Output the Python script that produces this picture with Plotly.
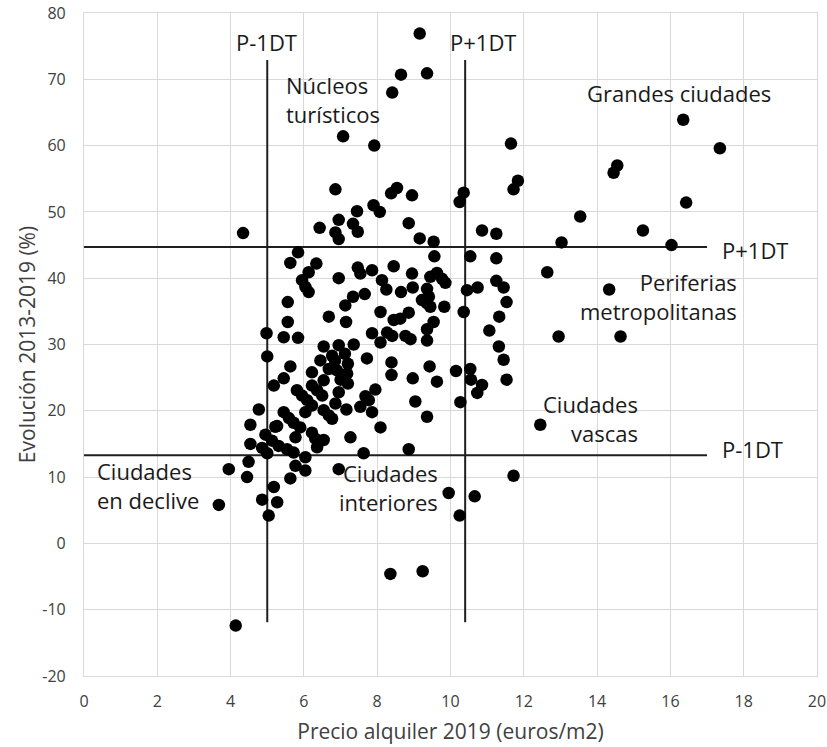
import plotly.graph_objects as go

# Precio alquiler 2019 (euros/m2)
precio = [
    9.16, 8.65, 9.36, 8.41, 11.65, 7.07, 7.92,
    16.35, 17.35, 14.55, 14.45, 16.43, 13.54, 15.25, 13.03, 16.03, 12.64, 14.33, 12.95, 14.64, 12.45,
    11.84, 11.72, 10.36, 10.25, 8.54, 8.38, 8.95, 8.07, 7.90, 8.86, 9.16, 9.54, 10.86, 11.25,
    9.56, 10.54, 11.25, 8.45, 8.95, 9.45, 9.63, 9.77, 9.86, 8.13, 8.25, 8.65, 8.97, 9.36, 9.41,
    9.22, 9.36, 9.45, 9.83, 10.45, 10.74, 11.25, 11.45, 11.53, 11.33, 11.06, 10.36, 11.32,
    8.09, 8.63, 8.86, 9.54, 9.36, 8.27, 8.41, 8.77, 8.91, 9.36, 8.09,
    11.45, 11.53, 10.86, 10.73, 10.54, 10.56, 10.15, 10.27, 9.43, 9.63, 8.97, 8.39, 8.39,
    9.04, 9.36, 8.86, 11.72, 9.95, 10.66, 10.25, 8.09, 8.36, 9.24,
    6.86, 7.45, 6.95, 6.43, 6.86, 6.95, 7.34, 7.47, 4.34, 5.84, 5.63, 6.34, 6.13, 5.95, 6.04,
    6.13, 6.95, 7.47, 7.54, 7.86, 7.34, 7.13, 7.66, 5.56, 5.56, 6.68, 7.15, 4.98, 5.45, 5.84,
    6.54, 6.95, 7.36, 7.86, 8.45, 7.12,
    5.00, 5.63, 5.45, 5.18, 4.77, 4.54, 4.54, 4.86, 5.00, 4.95, 5.13, 5.31, 5.54, 5.72, 5.22,
    5.45, 5.59, 5.72, 5.90, 5.77, 5.81, 5.95, 6.09, 6.22, 6.04, 6.22, 6.36, 6.50, 6.22, 6.45,
    6.77, 6.68, 6.54, 6.85, 7.20, 7.72, 7.00, 7.20, 7.18, 6.90, 6.95, 6.86, 6.54, 6.68, 6.77,
    7.16, 7.54, 7.68, 7.77, 7.95, 7.86, 7.27, 7.63, 6.22, 6.31, 6.54, 6.36, 6.04, 5.77, 6.04,
    5.63, 5.18, 5.27, 4.86, 5.04, 4.45, 4.49, 3.95, 3.68, 4.14, 6.95, 5.27,
]

# Evolución 2013-2019 (%)
evolucion = [
    76.9, 70.7, 70.9, 68.0, 60.3, 61.4, 60.0,
    63.9, 59.6, 57.0, 55.9, 51.4, 49.3, 47.2, 45.4, 45.0, 40.9, 38.3, 31.2, 31.2, 17.9,
    54.7, 53.4, 52.9, 51.5, 53.6, 52.8, 52.5, 50.0, 51.0, 48.3, 46.0, 45.5, 47.2, 46.7,
    43.3, 43.3, 43.0, 41.8, 40.7, 40.2, 40.8, 39.9, 39.3, 39.7, 38.3, 37.9, 38.6, 38.4, 37.2,
    36.7, 36.2, 35.7, 35.7, 38.2, 38.6, 39.6, 38.6, 36.4, 34.2, 32.1, 34.9, 29.7,
    34.9, 33.9, 34.8, 33.4, 32.3, 31.8, 31.3, 31.3, 30.8, 30.6, 30.3,
    27.7, 24.7, 23.9, 22.7, 26.3, 24.7, 26.0, 21.3, 26.7, 24.4, 24.9, 27.3, 25.4,
    21.4, 19.1, 14.2, 10.2, 7.6, 7.1, 4.2, 17.5, -4.6, -4.2,
    53.4, 50.1, 48.8, 47.6, 46.9, 45.9, 48.2, 47.0, 46.8, 43.9, 42.3, 42.2, 40.9, 39.7, 38.7,
    37.9, 40.0, 41.6, 40.7, 41.2, 37.2, 35.9, 37.6, 36.4, 33.4, 34.2, 33.4, 31.7, 31.1, 31.0,
    29.7, 29.9, 30.0, 31.7, 33.7, 28.6,
    28.2, 26.7, 24.9, 23.8, 20.2, 17.9, 15.0, 14.4, 13.6, 16.4, 15.5, 14.7, 14.2, 13.7, 17.6,
    19.8, 18.9, 18.2, 17.5, 16.0, 23.1, 22.3, 21.6, 20.8, 19.8, 23.8, 23.1, 22.3, 25.8, 27.6,
    28.3, 26.3, 24.6, 27.6, 27.1, 27.9, 24.7, 24.1, 25.6, 26.1, 22.8, 21.1, 20.1, 19.3, 18.8,
    20.2, 20.6, 22.2, 21.6, 23.2, 19.8, 16.0, 13.6, 16.7, 15.8, 15.6, 14.5, 13.0, 11.7, 11.0,
    9.8, 8.5, 6.2, 6.6, 4.2, 10.0, 12.3, 11.2, 5.8, -12.4, 11.2, 17.7,
]

# Reference lines (mean ± 1 standard deviation)
precio_menos_dt = 5.0
precio_mas_dt = 10.4
evol_mas_dt = 44.7
evol_menos_dt = 13.3
linea_x_rango = [0, 17.0]
linea_y_rango = [-11.9, 72.9]

x_ticks = list(range(0, 21, 2))
y_ticks = list(range(-20, 81, 10))

FONT = "Open Sans"
TXT = "#1a1a1a"
AXTXT = "#404040"
GRID = "#d9d9d9"

fig = go.Figure()

line_style = dict(color="#1f1f1f", width=2)
fig.add_trace(go.Scatter(x=[precio_menos_dt, precio_menos_dt], y=linea_y_rango, mode="lines",
                         line=line_style, hoverinfo="skip", showlegend=False))
fig.add_trace(go.Scatter(x=[precio_mas_dt, precio_mas_dt], y=linea_y_rango, mode="lines",
                         line=line_style, hoverinfo="skip", showlegend=False))
fig.add_trace(go.Scatter(x=linea_x_rango, y=[evol_mas_dt, evol_mas_dt], mode="lines",
                         line=line_style, hoverinfo="skip", showlegend=False))
fig.add_trace(go.Scatter(x=linea_x_rango, y=[evol_menos_dt, evol_menos_dt], mode="lines",
                         line=line_style, hoverinfo="skip", showlegend=False))

fig.add_trace(go.Scatter(x=precio, y=evolucion, mode="markers",
                         marker=dict(color="black", size=12.5, line=dict(width=0)),
                         showlegend=False))

ann_font = dict(family=FONT, size=22, color=TXT)
annotations = [
    dict(x=4.97, y=75.65, text="P-1DT", xanchor="center"),
    dict(x=10.9, y=75.6, text="P+1DT", xanchor="center"),
    dict(x=5.46, y=67.0, text="Núcleos<br>turísticos", xanchor="left", align="left"),
    dict(x=16.23, y=67.9, text="Grandes ciudades", xanchor="center"),
    dict(x=17.34, y=44.3, text="P+1DT", xanchor="left"),
    dict(x=17.86, y=37.3, text="Periferias<br>metropolitanas", xanchor="right", align="right"),
    dict(x=15.18, y=18.9, text="Ciudades<br>vascas", xanchor="right", align="right"),
    dict(x=17.34, y=14.3, text="P-1DT", xanchor="left"),
    dict(x=0.31, y=8.8, text="Ciudades<br>en declive", xanchor="left", align="left"),
    dict(x=9.72, y=8.5, text="Ciudades<br>interiores", xanchor="right", align="right"),
]
for a in annotations:
    a.update(xref="x", yref="y", yanchor="middle", showarrow=False, font=ann_font)

fig.update_layout(
    width=827, height=747,
    margin=dict(l=84, r=10, t=13, b=71),
    paper_bgcolor="white", plot_bgcolor="white",
    font=dict(family=FONT, color=AXTXT, size=16),
    annotations=annotations,
    showlegend=False,
)
fig.update_xaxes(
    range=[0, 20], tickvals=x_ticks, ticktext=[str(v) for v in x_ticks],
    automargin=False, ticklabeloverflow="allow",
    showgrid=True, gridcolor=GRID, gridwidth=1.2, zeroline=False,
    showline=True, linecolor=GRID, linewidth=1.2, mirror=True,
    ticks="outside", ticklen=11, tickcolor="rgba(0,0,0,0)",
    tickfont=dict(size=16, family=FONT, color=AXTXT),
    title=dict(text="Precio alquiler 2019 (euros/m2)", font=dict(size=21, family=FONT, color=AXTXT), standoff=13),
)
fig.update_yaxes(
    range=[-20, 80], tickvals=y_ticks, ticktext=[str(v) for v in y_ticks],
    automargin=False, ticklabeloverflow="allow",
    showgrid=True, gridcolor=GRID, gridwidth=1.2, zeroline=False,
    showline=True, linecolor=GRID, linewidth=1.2, mirror=True,
    ticks="outside", ticklen=14, tickcolor="rgba(0,0,0,0)",
    tickfont=dict(size=16, family=FONT, color=AXTXT),
    title=dict(text="Evolución 2013-2019 (%)", font=dict(size=21, family=FONT, color=AXTXT), standoff=0),
)

fig.write_html("out.html", post_script="document.body.style.margin='0';",
               config={"displayModeBar": False})
